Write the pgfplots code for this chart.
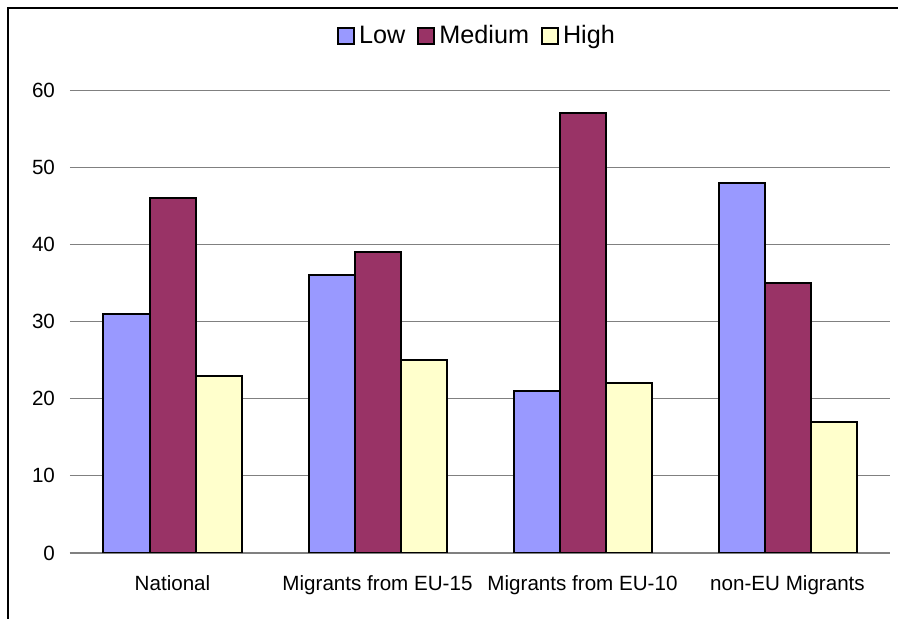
\documentclass[border=0pt]{standalone}
\usepackage{fontspec}
\setmainfont{Liberation Sans}
\usepackage{pgfplots}
\pgfplotsset{compat=1.18}
\definecolor{cLow}{HTML}{9999FF}
\definecolor{cMed}{HTML}{993366}
\definecolor{cHigh}{HTML}{FFFFCC}
\begin{document}
\begin{tikzpicture}[x=1pt,y=1pt]
\useasboundingbox (0,0) rectangle (449,309.5);
\draw[line width=0.7pt] (4,0) -- (4,305.5) -- (449,305.5);
\begin{axis}[
    at={(35pt,33pt)}, anchor=south west,
    scale only axis,
    width=410pt, height=231.5pt,
    ybar=0pt, bar width=23pt,
    xmin=-0.5, xmax=3.5,
    ymin=0, ymax=60,
    ytick={0,10,...,60},
    xtick={0,1,2,3},
    xticklabels={National, Migrants from EU-15, Migrants from EU-10, non-EU Migrants},
    ymajorgrids,
    grid style={gray, line width=0.5pt},
    axis x line*=bottom,
    axis y line*=left,
    x axis line style={gray, line width=0.6pt, -},
    y axis line style={draw=none},
    major tick length=0pt,
    tick style={draw=none},
    /pgf/number format/assume math mode=true,
    ticklabel style={font=\fontsize{10.3}{12}\selectfont},
    yticklabel style={xshift=-4pt},
    xticklabel style={yshift=-8pt},
    legend style={at={(0.4976,1.117)}, anchor=center, draw=none, fill=none,
        legend columns=-1, font=\fontsize{12.6}{14}\selectfont,
        /tikz/every even column/.append style={column sep=4pt}},
    legend image code/.code={\draw[#1,line width=1pt] (-3pt,-4pt) rectangle (5pt,4pt);},
]
\addplot[fill=cLow, draw=black, line width=1pt] coordinates {(0,31) (1,36) (2,21) (3,48)};
\addplot[fill=cMed, draw=black, line width=1pt] coordinates {(0,46) (1,39) (2,57) (3,35)};
\addplot[fill=cHigh, draw=black, line width=1pt] coordinates {(0,23) (1,25) (2,22) (3,17)};
\legend{Low, Medium, High}
\end{axis}
\end{tikzpicture}
\end{document}
